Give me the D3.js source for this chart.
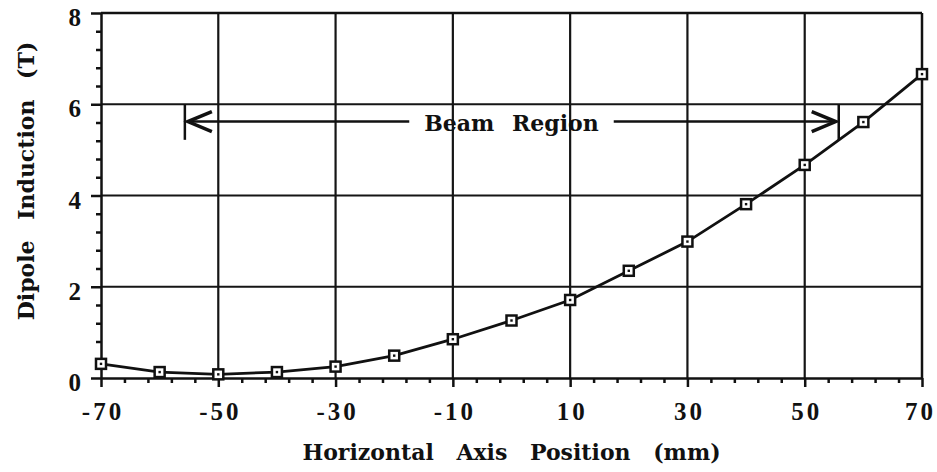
<!DOCTYPE html>
<html>
<head>
<meta charset="utf-8">
<script src="https://cdn.jsdelivr.net/npm/d3@7"></script>
<style>
    body { margin: 0; background: #fff; }
    svg { display: block; }
    .tick-label { font-family: "Liberation Serif", "Times New Roman", serif; font-weight: bold; font-size: 25px; fill: #111; }
    .axis-title { font-family: "DejaVu Serif", serif; font-weight: bold; font-size: 22px; fill: #111; }
    .beam-label { font-family: "DejaVu Serif", serif; font-weight: bold; font-size: 22px; fill: #111; }
</style>
</head>
<body>
<svg id="chart"></svg>
<script>
// Field measurement: dipole induction vs horizontal position
const positions = [-70, -60, -50, -40, -30, -20, -10, 0, 10, 20, 30, 40, 50, 60, 70];
const induction = [0.31, 0.13, 0.08, 0.13, 0.25, 0.49, 0.85, 1.26, 1.71, 2.35, 2.99, 3.81, 4.67, 5.61, 6.66];

const xTickValues = [-70, -50, -30, -10, 10, 30, 50, 70];
const yTickValues = [0, 2, 4, 6, 8];
const xGridValues = [-50, -30, -10, 10, 30, 50];
const yGridValues = [2, 4, 6];

// Beam region annotation (mm) and the height of its arrow (T)
const beamRegion = [-55.7, 55.8];
const beamArrowLevel = 5.62;
const beamBarRange = [6, 5.22];
const beamLabel = 'Beam Region';

const xTitle = 'Horizontal Axis Position (mm)';
const yTitle = 'Dipole Induction (T)';

class LineChart {

    constructor(_config, _data) {
        this.config = {
            parentElement: _config.parentElement,
            containerWidth: _config.containerWidth || 937,
            containerHeight: _config.containerHeight || 472,
            margin: _config.margin || {top: 13, right: 15, bottom: 94, left: 101},
        };
        this.data = _data;
        this.initVis();
    }

    initVis() {
        let vis = this;

        vis.width = vis.config.containerWidth - vis.config.margin.left - vis.config.margin.right;
        vis.height = vis.config.containerHeight - vis.config.margin.top - vis.config.margin.bottom;

        vis.xScale = d3.scaleLinear().domain([-70, 70]).range([0, vis.width]);
        vis.yScale = d3.scaleLinear().domain([0, 8]).range([vis.height, 0]);

        vis.svg = d3.select(vis.config.parentElement)
            .attr('width', vis.config.containerWidth)
            .attr('height', vis.config.containerHeight);

        vis.chart = vis.svg.append('g')
            .attr('transform', `translate(${vis.config.margin.left},${vis.config.margin.top})`);

        vis.renderVis();
    }

    renderVis() {
        let vis = this;
        const x = vis.xScale, y = vis.yScale;

        // grid lines
        vis.chart.selectAll('.grid-x')
            .data(xGridValues)
          .join('line')
            .attr('class', 'grid-x')
            .attr('x1', d => x(d)).attr('x2', d => x(d))
            .attr('y1', 0).attr('y2', vis.height)
            .attr('stroke', '#151515').attr('stroke-width', 2.2);

        vis.chart.selectAll('.grid-y')
            .data(yGridValues)
          .join('line')
            .attr('class', 'grid-y')
            .attr('x1', 0).attr('x2', vis.width)
            .attr('y1', d => y(d)).attr('y2', d => y(d))
            .attr('stroke', '#151515').attr('stroke-width', 2.2);

        // minor ticks (every 4 mm, every 0.4 T)
        const xMinor = d3.range(-70, 70.01, 4).filter(v => !xTickValues.includes(v));
        const yMinor = d3.range(0, 8.01, 0.4).map(v => +v.toFixed(1)).filter(v => !yTickValues.includes(v));

        vis.chart.append('g')
            .attr('transform', `translate(0,${vis.height})`)
            .call(d3.axisBottom(x).tickValues(xMinor).tickSize(5).tickSizeOuter(0).tickFormat(''))
            .call(g => g.select('.domain').remove())
            .call(g => g.selectAll('line').attr('stroke', '#111').attr('stroke-width', 2.5));

        vis.chart.append('g')
            .call(d3.axisLeft(y).tickValues(yMinor).tickSize(5).tickSizeOuter(0).tickFormat(''))
            .call(g => g.select('.domain').remove())
            .call(g => g.selectAll('line').attr('stroke', '#111').attr('stroke-width', 2.5));

        // major axes
        vis.chart.append('g')
            .attr('transform', `translate(0,${vis.height})`)
            .call(d3.axisBottom(x).tickValues(xTickValues).tickSize(9).tickSizeOuter(0).tickFormat(d => d))
            .call(g => g.select('.domain').attr('stroke', '#111').attr('stroke-width', 2.5))
            .call(g => g.selectAll('line').attr('stroke', '#111').attr('stroke-width', 2.5))
            .call(g => g.selectAll('text')
                .attr('class', 'tick-label')
                .attr('y', 42).attr('dy', 0)
                .attr('dx', d => d === 70 ? -2 : 1.5)
                .style('letter-spacing', '3px'));

        vis.chart.append('g')
            .call(d3.axisLeft(y).tickValues(yTickValues).tickSize(10).tickSizeOuter(0).tickFormat(d => d))
            .call(g => g.select('.domain').attr('stroke', '#111').attr('stroke-width', 2.5))
            .call(g => g.selectAll('line').attr('stroke', '#111').attr('stroke-width', 2.5))
            .call(g => g.selectAll('text')
                .attr('class', 'tick-label')
                .attr('x', -20).attr('dy', 12.5));

        // frame: top and right
        vis.chart.append('line')
            .attr('x1', 0).attr('x2', vis.width)
            .attr('y1', y(8)).attr('y2', y(8))
            .attr('stroke', '#111').attr('stroke-width', 2.5);
        vis.chart.append('line')
            .attr('x1', x(70)).attr('x2', x(70))
            .attr('y1', 0).attr('y2', vis.height)
            .attr('stroke', '#111').attr('stroke-width', 2.5);

        // beam region annotation
        const beam = vis.chart.append('g').attr('class', 'beam');
        const ay = y(beamArrowLevel);
        const label = beam.append('text')
            .attr('class', 'beam-label')
            .attr('x', x(0)).attr('y', ay + 9)
            .attr('text-anchor', 'middle')
            .style('word-spacing', '10px')
            .text(beamLabel);
        const halfLen = label.node().getComputedTextLength() / 2 + 15;

        beam.selectAll('.beam-bar')
            .data(beamRegion)
          .join('line')
            .attr('class', 'beam-bar')
            .attr('x1', d => x(d)).attr('x2', d => x(d))
            .attr('y1', y(beamBarRange[0])).attr('y2', y(beamBarRange[1]))
            .attr('stroke', '#111').attr('stroke-width', 2.5);

        beam.append('line')
            .attr('x1', x(beamRegion[0]) + 3).attr('x2', x(0) - halfLen)
            .attr('y1', ay).attr('y2', ay)
            .attr('stroke', '#111').attr('stroke-width', 2.5);
        beam.append('line')
            .attr('x1', x(0) + halfLen).attr('x2', x(beamRegion[1]) - 3)
            .attr('y1', ay).attr('y2', ay)
            .attr('stroke', '#111').attr('stroke-width', 2.5);

        // open chevron heads
        beam.selectAll('.beam-head')
            .data([{tip: x(beamRegion[0]) + 3, dir: 1}, {tip: x(beamRegion[1]) - 3, dir: -1}])
          .join('polyline')
            .attr('class', 'beam-head')
            .attr('points', d => [[d.tip + d.dir * 24, ay - 10], [d.tip, ay], [d.tip + d.dir * 24, ay + 10]].join(' '))
            .attr('fill', 'none').attr('stroke', '#111').attr('stroke-width', 3.5)
            .attr('stroke-linejoin', 'miter');

        // data line and markers
        const points = positions.map((p, i) => ({x: p, y: induction[i]}));
        const line = d3.line().x(d => x(d.x)).y(d => y(d.y));

        vis.chart.append('path')
            .datum(points)
            .attr('d', line)
            .attr('fill', 'none')
            .attr('stroke', '#111')
            .attr('stroke-width', 2.8);

        const markers = vis.chart.selectAll('.marker')
            .data(points)
          .join('g')
            .attr('class', 'marker')
            .attr('transform', d => `translate(${x(d.x)},${y(d.y)})`);
        markers.append('rect')
            .attr('x', -5).attr('y', -5).attr('width', 10).attr('height', 10)
            .attr('fill', '#fff').attr('stroke', '#111').attr('stroke-width', 2.5);
        markers.append('rect')
            .attr('x', -1.2).attr('y', -1.2).attr('width', 2.4).attr('height', 2.4)
            .attr('fill', '#111');

        // axis titles
        vis.svg.append('text')
            .attr('class', 'axis-title')
            .attr('x', vis.config.margin.left + x(0))
            .attr('y', 460)
            .attr('text-anchor', 'middle')
            .style('word-spacing', '15px')
            .text(xTitle);

        vis.svg.append('text')
            .attr('class', 'axis-title')
            .attr('transform', `translate(34,${vis.config.margin.top + 168}) rotate(-90)`)
            .attr('text-anchor', 'middle')
            .style('word-spacing', '13px')
            .text(yTitle);
    }
}

new LineChart({parentElement: '#chart'}, {positions, induction});
</script>
</body>
</html>
